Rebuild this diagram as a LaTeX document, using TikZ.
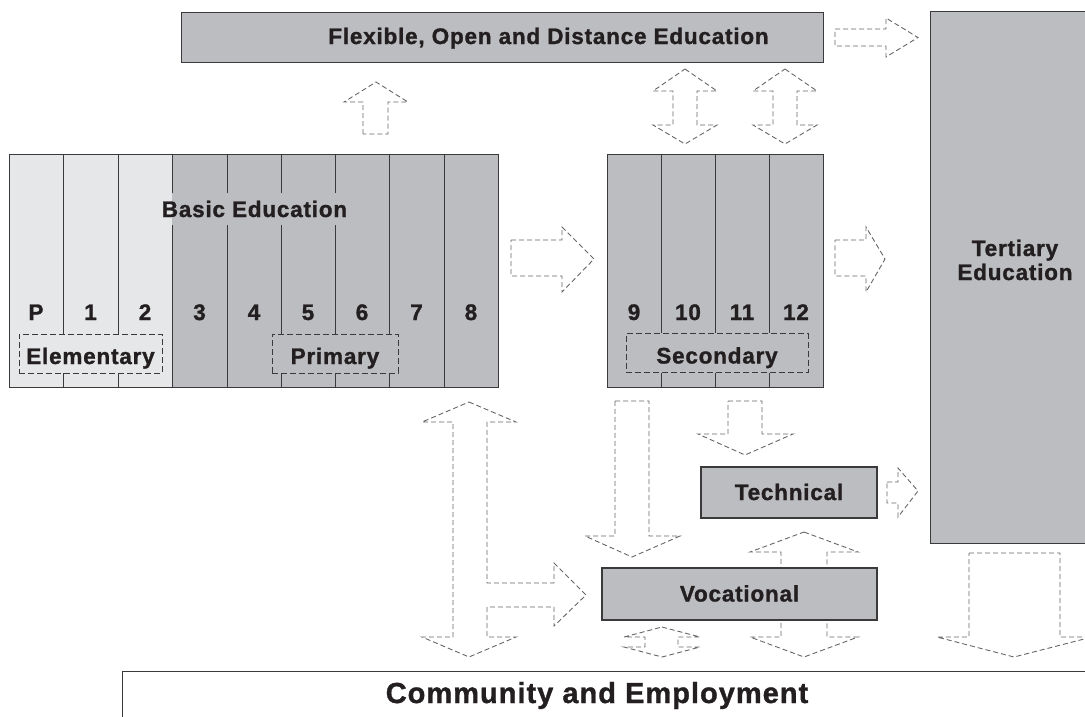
\documentclass[tikz,border=0pt]{standalone}
\usepackage{fontspec}
\setmainfont{Liberation Sans}[LetterSpace=3.5,BoldFeatures={FakeBold=1.2}]
\definecolor{midgrey}{HTML}{BCBDC0}
\definecolor{palegrey}{HTML}{E6E7E8}
\definecolor{edgegrey}{HTML}{3A3A3A}
\definecolor{dashgrey}{HTML}{666666}
\definecolor{inkgrey}{HTML}{231F20}

\begin{document}
\begin{tikzpicture}[x=1pt,y=-1pt,
    every node/.style={font=\fontsize{22.5}{24}\selectfont\bfseries,text=inkgrey},
    box/.style={draw=edgegrey,line width=1.3pt,fill=midgrey,inner sep=0pt,text height=15pt,text depth=0pt},
    tag/.style={draw=edgegrey,dash pattern=on 6pt off 3pt,line width=1pt,inner sep=0pt,minimum height=39pt,text height=21pt,text depth=0pt},
    gridline/.style={draw=edgegrey,line width=1pt},
    blockarrow/.style={draw=dashgrey,line width=0.9pt,dash pattern=on 5pt off 3pt}]

    \useasboundingbox (0,0) rectangle (1085,716);
    \clip (0,0) rectangle (1085,716);

    % block arrows
    \draw[blockarrow] (363,134) -- (363,102) -- (344,102) -- (376,82) -- (408,102) -- (388,102) -- (388,134) -- cycle;
    \draw[blockarrow] (835,29) -- (886,29) -- (886,18) -- (918,37.5) -- (886,57) -- (886,46) -- (835,46) -- cycle;
    \draw[blockarrow] (685,69) -- (717,91) -- (697,91) -- (697,125) -- (717,125) -- (685,144) -- (653,125) -- (673,125) -- (673,91) -- (653,91) -- cycle;
    \draw[blockarrow] (785,69) -- (817,91) -- (797,91) -- (797,125) -- (817,125) -- (785,144) -- (753,125) -- (773,125) -- (773,91) -- (753,91) -- cycle;
    \draw[blockarrow] (511,240) -- (562,240) -- (562,227) -- (594,259) -- (562,292) -- (562,276) -- (511,276) -- cycle;
    \draw[blockarrow] (835,240) -- (866,240) -- (866,227) -- (885,259) -- (866,292) -- (866,276) -- (835,276) -- cycle;
    \draw[blockarrow] (469,402) -- (516,422) -- (487,422) -- (487,583) -- (554,583) -- (554,563) -- (586,595) -- (554,626) -- (554,607) -- (487,607) -- (487,637) -- (516,637) -- (469,657) -- (422,637) -- (453,637) -- (453,422) -- (422,422) -- cycle;
    \draw[blockarrow] (615,401) -- (649,401) -- (649,536) -- (680,536) -- (632,557) -- (585,536) -- (615,536) -- cycle;
    \draw[blockarrow] (728,401) -- (762,401) -- (762,434) -- (793,434) -- (745,455) -- (698,434) -- (728,434) -- cycle;
    \draw[blockarrow] (804,532) -- (858,552) -- (827,552) -- (827,637) -- (858,637) -- (804,657) -- (750,637) -- (781,637) -- (781,552) -- (750,552) -- cycle;
    \draw[blockarrow] (662,627) -- (700,637) -- (678,637) -- (678,647) -- (700,647) -- (662,657) -- (624,647) -- (645,647) -- (645,637) -- (624,637) -- cycle;
    \draw[blockarrow] (887,482) -- (898,482) -- (898,468) -- (918,491) -- (898,517) -- (898,503) -- (887,503) -- cycle;
    \draw[blockarrow] (969,553) -- (1060,553) -- (1060,637) -- (1092,637) -- (1014,657) -- (937,637) -- (969,637) -- cycle;

    % basic education block
    \fill[palegrey] (9,154) rectangle (172,387);
    \fill[midgrey] (172,154) rectangle (498,387);
    \draw[gridline] (63,154) -- (63,334) (63,373) -- (63,387);
    \draw[gridline] (118,154) -- (118,334) (118,373) -- (118,387);
    \draw[gridline] (172,154) -- (172,193) (172,225) -- (172,387);
    \draw[gridline] (227,154) -- (227,193) (227,225) -- (227,387);
    \draw[gridline] (281,154) -- (281,193) (281,225) -- (281,334) (281,373) -- (281,387);
    \draw[gridline] (335,154) -- (335,193) (335,225) -- (335,334) (335,373) -- (335,387);
    \draw[gridline] (389,154) -- (389,334) (389,373) -- (389,387);
    \draw[gridline] (444,154) -- (444,387);
    \node[box,fill=none,anchor=north west,minimum width=489pt,minimum height=233pt] (basic) at (9,154) {};
    \node[anchor=base] (basiclab) at (254.5,217) {Basic Education};
    \node[anchor=base] (gP) at (36,320) {P};
    \node[anchor=base] (g1) at (90.5,320) {1};
    \node[anchor=base] (g2) at (145,320) {2};
    \node[anchor=base] (g3) at (199.5,320) {3};
    \node[anchor=base] (g4) at (254,320) {4};
    \node[anchor=base] (g5) at (308,320) {5};
    \node[anchor=base] (g6) at (362,320) {6};
    \node[anchor=base] (g7) at (416.5,320) {7};
    \node[anchor=base] (g8) at (471,320) {8};
    \node[tag,minimum width=143pt] (elementary) at (90.5,353.5) {Elementary};
    \node[tag,minimum width=126pt] (primary) at (335,353.5) {Primary};

    % secondary block
    \fill[midgrey] (607,154) rectangle (823,387);
    \draw[gridline] (661,154) -- (661,333) (661,373) -- (661,387);
    \draw[gridline] (715,154) -- (715,333) (715,373) -- (715,387);
    \draw[gridline] (769,154) -- (769,333) (769,373) -- (769,387);
    \node[box,fill=none,anchor=north west,minimum width=216pt,minimum height=233pt] (second) at (607,154) {};
    \node[anchor=base] (g9) at (634,320) {9};
    \node[anchor=base] (g10) at (688,320) {10};
    \node[anchor=base] (g11) at (742,320) {11};
    \node[anchor=base] (g12) at (796,320) {12};
    \node[tag,minimum width=182pt] (secondary) at (717,353) {Secondary};

    % other boxes
    \node[box,anchor=north west,minimum width=642pt,minimum height=50pt] (fode) at (181,12) {};
    \node[anchor=base] (fodelab) at (548.5,44) {Flexible, Open and Distance Education};
    \node[box,anchor=north west,minimum width=170pt,minimum height=532pt] (tertiary) at (930,11) {};
    \node[anchor=base,align=center] (tertlab) at (1015,280) {Tertiary\\Education};
    \node[box,minimum width=176pt,minimum height=51pt] (technical) at (789,492.5) {Technical};
    \node[box,minimum width=275pt,minimum height=52pt] (vocational) at (739.5,594) {Vocational};
    \node[box,fill=white,anchor=north west,minimum width=1000pt,minimum height=100pt] (community) at (122,671) {};
    \node[anchor=base,font=\fontsize{29}{30}\selectfont\bfseries] (commlab) at (597,703) {Community and Employment};

\end{tikzpicture}
\end{document}
